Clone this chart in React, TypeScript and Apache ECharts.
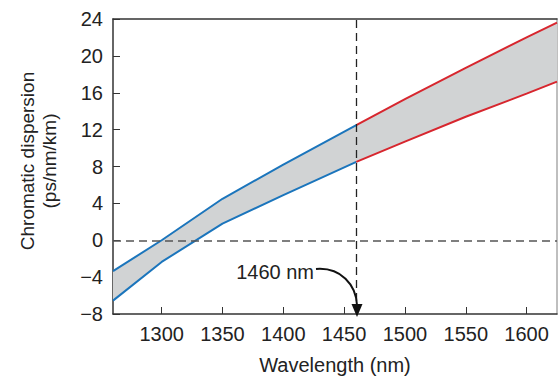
import React, { useEffect, useRef } from "react";
import * as echarts from "echarts";

const wavelength = [1260, 1300, 1350, 1400, 1460, 1500, 1550, 1600, 1625];
const upperDispersion = [-3.35, 0, 4.5, 8.2, 12.5, 15.3, 18.7, 22.0, 23.6];
const lowerDispersion = [-6.55, -2.35, 1.8, 4.9, 8.5, 10.7, 13.4, 15.9, 17.2];
const xTickValues = [1300, 1350, 1400, 1450, 1500, 1550, 1600];
const cutoffWavelength = 1460;
const cutoffLabel = "1460 nm";

const FONT = "'Liberation Sans', Arial, Helvetica, sans-serif";
const TEXT = "#222";
const BLUE = "#1b75bc";
const RED = "#d7262e";
const FILL = "#d1d3d4";

function pairs(ys: number[], pred: (x: number) => boolean) {
  const out: number[][] = [];
  wavelength.forEach((x, i) => {
    if (pred(x)) out.push([x, ys[i]]);
  });
  return out;
}

export default function App() {
  const ref = useRef<HTMLDivElement>(null);
  useEffect(() => {
    document.body.style.margin = "0";
    if (!ref.current) return;
    const chart = echarts.init(ref.current, undefined, { renderer: "svg" });
    const lineBase = {
      type: "line",
      symbol: "none",
      silent: true,
      xAxisIndex: 0,
      yAxisIndex: 0,
    };
    chart.setOption({
      animation: false,
      grid: { left: 113, right: 1, top: 19, bottom: 65 },
      xAxis: [
        {
          type: "value",
          min: 1260,
          max: 1625,
          name: "Wavelength (nm)",
          nameLocation: "middle",
          nameGap: 41,
          nameTextStyle: { fontFamily: FONT, fontSize: 20, color: TEXT },
          axisLine: { onZero: false, lineStyle: { color: "#333", width: 1.5 } },
          axisTick: {
            inside: true,
            length: 7,
            customValues: xTickValues,
            lineStyle: { color: "#333", width: 1 },
          },
          axisLabel: {
            customValues: xTickValues,
            margin: 10,
            fontFamily: FONT,
            fontSize: 20,
            color: TEXT,
            formatter: (v: number) => String(v),
          },
          splitLine: { show: false },
        },
        {
          type: "value",
          position: "top",
          min: 1260,
          max: 1625,
          axisLine: { show: true, onZero: false, lineStyle: { color: "#333", width: 1.5 } },
          axisTick: { show: false },
          axisLabel: { show: false },
          splitLine: { show: false },
        },
      ],
      yAxis: [
        {
          type: "value",
          min: -8,
          max: 24,
          interval: 4,
          axisLine: { show: true, onZero: false, lineStyle: { color: "#333", width: 1.5 } },
          axisTick: { show: true, inside: true, length: 7, lineStyle: { color: "#333", width: 1 } },
          axisLabel: {
            margin: 10,
            fontFamily: FONT,
            fontSize: 20,
            color: TEXT,
            formatter: (v: number) => String(v).replace("-", "\u2212"),
          },
          splitLine: { show: false },
        },
        {
          type: "value",
          position: "right",
          min: -8,
          max: 24,
          interval: 4,
          axisLine: { show: true, onZero: false, lineStyle: { color: "#aaa", width: 1.5 } },
          axisTick: { show: false },
          axisLabel: { show: false },
          splitLine: { show: false },
        },
      ],
      series: [
        {
          type: "custom",
          name: "band",
          silent: true,
          xAxisIndex: 0,
          yAxisIndex: 0,
          data: [0],
          z: 1,
          renderItem: (_params: any, api: any) => {
            const pts: number[][] = [];
            wavelength.forEach((x, i) => pts.push(api.coord([x, upperDispersion[i]])));
            for (let i = wavelength.length - 1; i >= 0; i--) {
              pts.push(api.coord([wavelength[i], lowerDispersion[i]]));
            }
            return {
              type: "polygon",
              shape: { points: pts },
              style: { fill: FILL, stroke: "none" },
            };
          },
        },
        {
          ...lineBase,
          name: "refs",
          data: [],
          z: 3,
          markLine: {
            silent: true,
            symbol: "none",
            label: { show: false },
            data: [
              { yAxis: 0, lineStyle: { color: "#555", type: [8, 5], width: 1.5 } },
              { xAxis: cutoffWavelength, lineStyle: { color: "#222", type: [8, 5], width: 1.3 } },
            ],
          },
        },
        {
          ...lineBase,
          name: "upper O-band",
          data: pairs(upperDispersion, (x) => x <= cutoffWavelength),
          lineStyle: { color: BLUE, width: 2 },
          z: 4,
        },
        {
          ...lineBase,
          name: "lower O-band",
          data: pairs(lowerDispersion, (x) => x <= cutoffWavelength),
          lineStyle: { color: BLUE, width: 2 },
          z: 4,
        },
        {
          ...lineBase,
          name: "upper long",
          data: pairs(upperDispersion, (x) => x >= cutoffWavelength),
          lineStyle: { color: RED, width: 2 },
          z: 4,
        },
        {
          ...lineBase,
          name: "lower long",
          data: pairs(lowerDispersion, (x) => x >= cutoffWavelength),
          lineStyle: { color: RED, width: 2 },
          z: 4,
        },
      ],
      graphic: [
        {
          type: "text",
          x: 38,
          y: 161,
          rotation: Math.PI / 2,
          style: {
            text: "Chromatic dispersion\n(ps/nm/km)",
            fontFamily: FONT,
            fontSize: 19,
            lineHeight: 22,
            fill: TEXT,
            align: "center",
            verticalAlign: "middle",
          },
        },
        {
          type: "text",
          x: 314,
          y: 272,
          style: {
            text: cutoffLabel,
            fontFamily: FONT,
            fontSize: 20,
            fill: TEXT,
            align: "right",
            verticalAlign: "middle",
          },
        },
        {
          type: "bezierCurve",
          shape: { x1: 316, y1: 269, cpx1: 341, cpy1: 267, cpx2: 356, cpy2: 285, x2: 357, y2: 305 },
          style: { stroke: "#111", lineWidth: 2, fill: "none" },
          z: 10,
        },
        {
          type: "polygon",
          shape: { points: [[351.5, 304], [362.5, 304], [357, 317]] },
          style: { fill: "#111" },
          z: 10,
        },
      ],
    });
    return () => chart.dispose();
  }, []);
  return <div ref={ref} style={{ width: 558, height: 380 }} />;
}
